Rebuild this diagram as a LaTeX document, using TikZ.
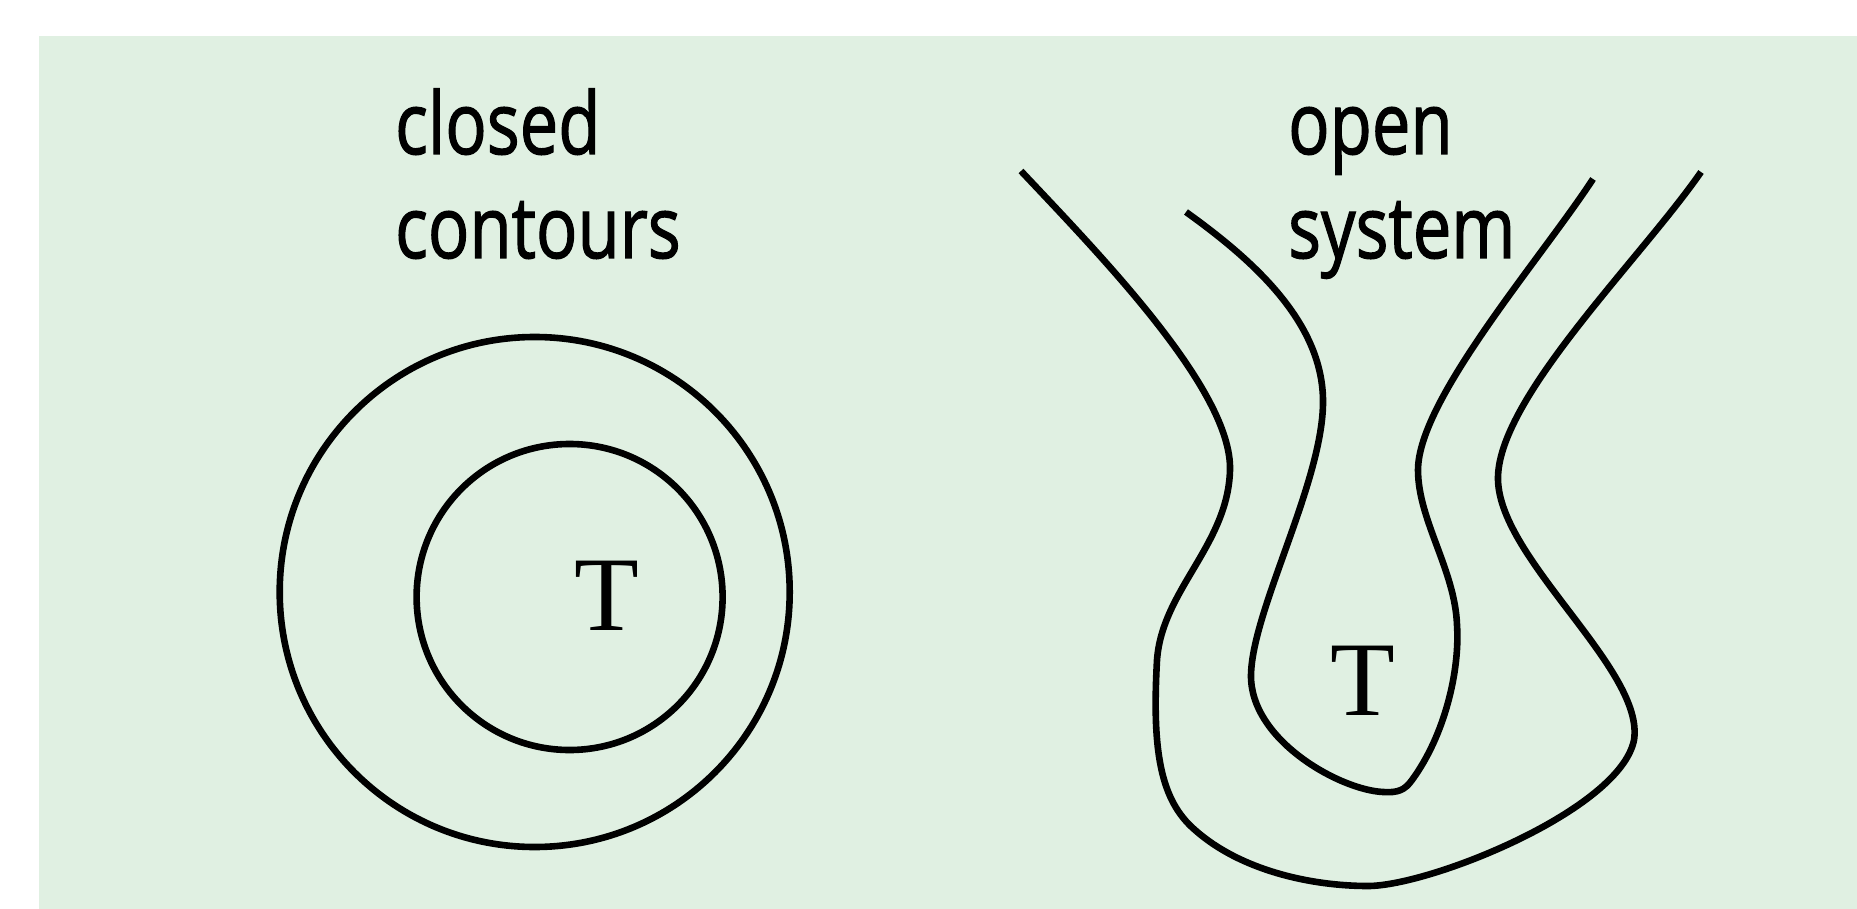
\documentclass[tikz,border=0pt]{standalone}
\usepackage{fontspec}
\setmainfont{Liberation Serif}
\newfontfamily\labelfont[FakeBold=1.6]{Open Sans}
\definecolor{bgfill}{RGB}{224,240,226}
\tikzset{
  contour/.style={draw=black, line width=6.6pt, line join=round, line cap=butt},
  caption/.style={anchor=base west, inner sep=0pt, font=\labelfont\fontsize{86}{104}\selectfont, xscale=0.80},
  level/.style={inner sep=0pt, font=\fontsize{106}{106}\selectfont},
}
\begin{document}
\begin{tikzpicture}[x=1pt,y=-1pt]
\useasboundingbox (0,0) rectangle (1857,909);
\fill[bgfill] (39,36) rectangle (1857,909);

% closed contours around a summit
\draw[contour] (534.7,592) circle[radius=255];
\draw[contour] (569.6,597) circle[radius=153];
\node[level] (tclosed) at (607,596) {T};

\node[caption] (closed) at (395,154) {closed};
\node[caption] (contours) at (395,258) {contours};

% open system of contours: outer line
\draw[contour] (1021,171)
  .. controls (1100,255) and (1232,390) .. (1230,470)
  .. controls (1228,545) and (1162,590) .. (1157,660)
  .. controls (1152,750) and (1160,800) .. (1195,830)
  .. controls (1240,870) and (1310,886) .. (1368,886)
  .. controls (1430,886) and (1620,810) .. (1634,740)
  .. controls (1645,670) and (1500,560) .. (1498,480)
  .. controls (1496,400) and (1640,260) .. (1701,172);
% open system of contours: inner line
\draw[contour] (1186,212)
  .. controls (1250,258) and (1322,320) .. (1323,400)
  .. controls (1324,480) and (1252,610) .. (1251,675)
  .. controls (1250,740) and (1340,790) .. (1383,792)
  .. controls (1398,793) and (1405,790) .. (1412,780)
  .. controls (1445,735) and (1460,670) .. (1457,625)
  .. controls (1455,570) and (1418,520) .. (1418,470)
  .. controls (1418,400) and (1540,260) .. (1593,179);
\node[level] (topen) at (1363,681) {T};

\node[caption] (open) at (1288,154) {open};
\node[caption] (system) at (1288,258) {system};
\end{tikzpicture}
\end{document}
